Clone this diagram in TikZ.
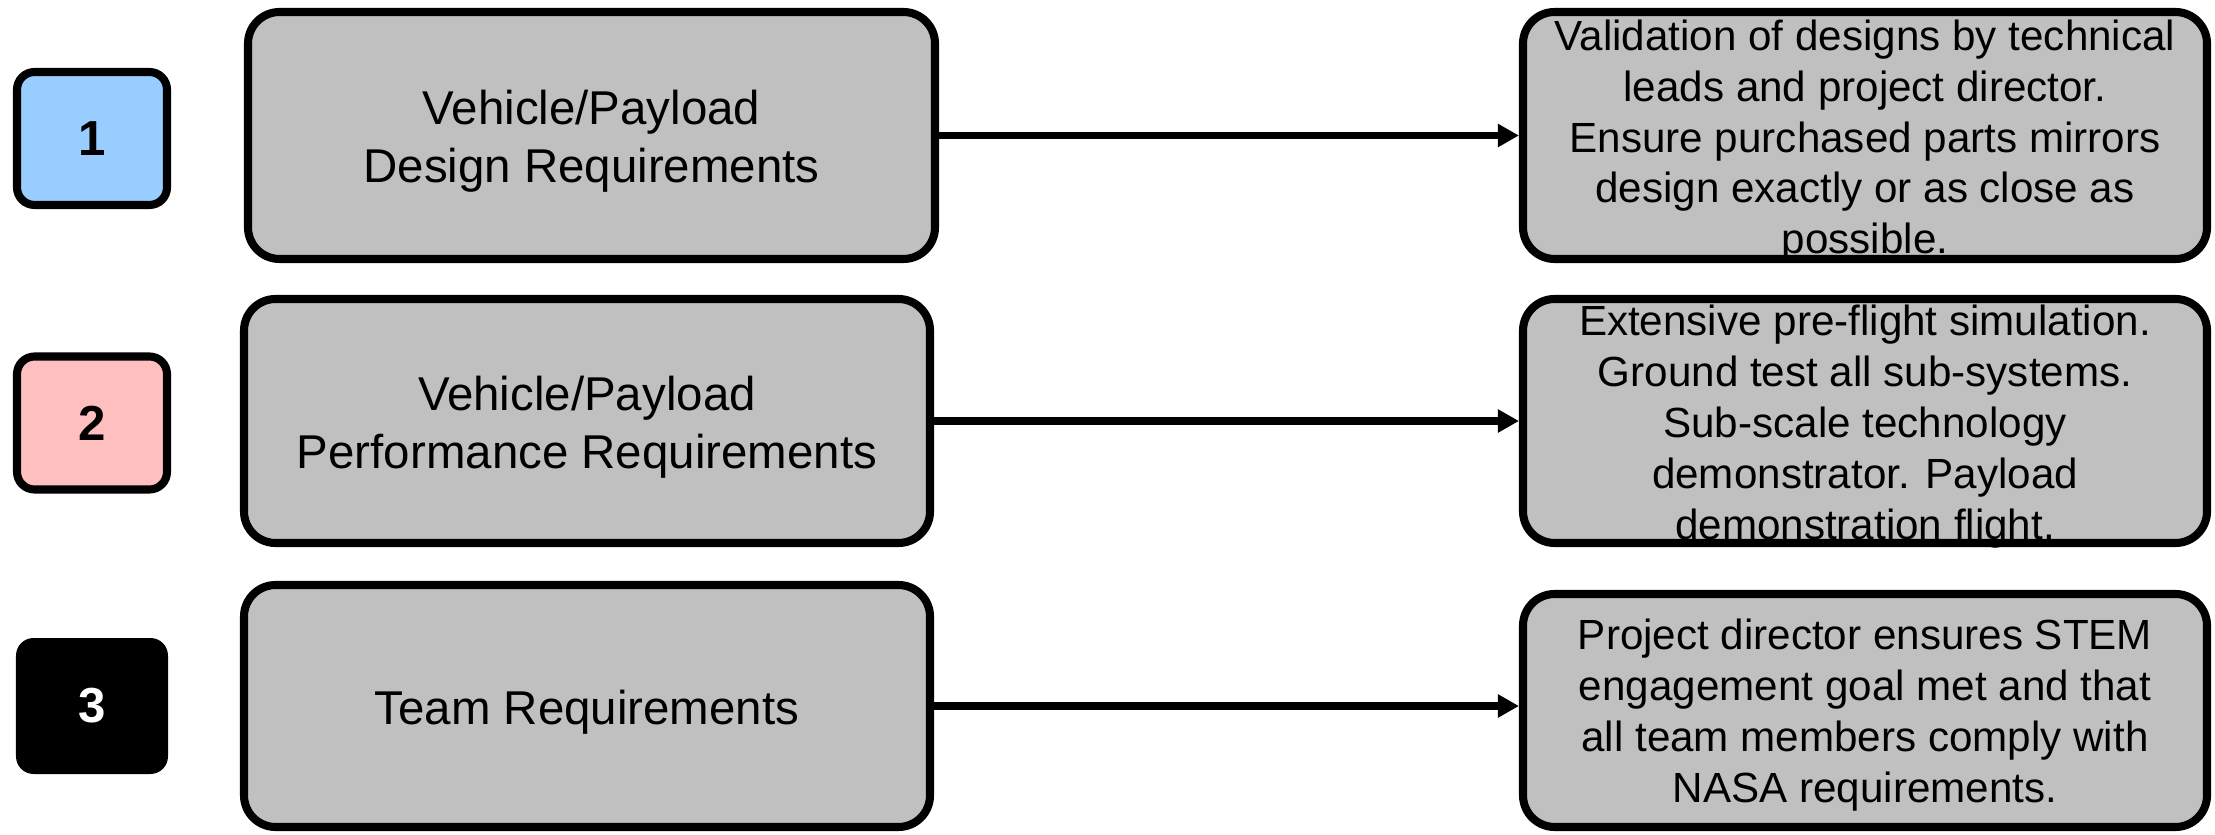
\documentclass[tikz,border=0pt]{standalone}
\usepackage{fontspec}
\setmainfont{Liberation Sans}
\usepackage{xcolor}
\usetikzlibrary{arrows.meta, positioning}

\definecolor{boxgray}{RGB}{192,192,192}
\definecolor{numblue}{RGB}{153,204,255}
\definecolor{numpink}{RGB}{255,191,191}

\begin{document}
\begin{tikzpicture}[
  num/.style={draw, line width=2.3pt, rounded corners=5pt,
              minimum width=1.5cm, minimum height=1.33cm,
              font=\fontsize{14}{16}\selectfont\bfseries},
  req/.style={draw, line width=2.3pt, rounded corners=9pt, fill=boxgray,
              minimum width=6.86cm, minimum height=2.44cm,
              font=\fontsize{13.5}{16.5}\selectfont, align=center},
  act/.style={draw, line width=2.3pt, rounded corners=9pt, fill=boxgray,
              minimum width=6.84cm, minimum height=2.44cm},
  acttxt/.style={inner sep=0pt, font=\fontsize{12}{14.5}\selectfont,
                 align=center},
  arr/.style={-{Triangle[length=0.21cm, width=0.22cm]}, line width=2pt},
]
\useasboundingbox (0,0) rectangle (22.15,-8.35);

% numbered tags
\node[num, fill=numblue] (n1) at (0.92,-1.385) {1};
\node[num, fill=numpink] (n2) at (0.92,-4.23) {2};
\node[num, fill=black, draw=none, text=white,
      minimum width=1.52cm, minimum height=1.36cm] (n3) at (0.92,-7.06) {3};

% requirements
\node[req, minimum height=2.47cm, minimum width=6.87cm]
  (l1) at (5.915,-1.355) {\rule{0pt}{0.98em}Vehicle/Payload\\Design Requirements};
\node[req] (l2) at (5.87,-4.21)
  {\rule{0pt}{0.98em}Vehicle/Payload\\Performance Requirements};
\node[req, minimum height=2.42cm] (l3) at (5.87,-7.06)
  {\rule{0pt}{0.98em}Team Requirements};

% verification
\node[act, minimum height=2.47cm] (r1) at (18.65,-1.355) {};
\node[act] (r2) at (18.65,-4.21) {};
\node[act, minimum height=2.33cm] (r3) at (18.65,-7.105) {};

\node[acttxt] (r1t) at ([yshift=-1.6pt]r1.center)
  {Validation of designs by technical\\leads and project director.\\
   Ensure purchased parts mirrors\\design exactly or as close as\\possible.};
\node[acttxt] (r2t) at ([yshift=-1.6pt]r2.center)
  {Extensive pre-flight simulation.\\Ground test all sub-systems.\\
   Sub-scale technology\\demonstrator. Payload\\demonstration flight.};
\node[acttxt] (r3t) at ([yshift=-1.2pt]r3.center)
  {Project director ensures STEM\\engagement goal met and that\\
   all team members comply with\\NASA requirements.};

\draw[arr] (l1.east) -- (l1.east -| r1.west);
\draw[arr] (l2.east) -- (l2.east -| r2.west);
\draw[arr] (l3.east) -- (l3.east -| r3.west);
\end{tikzpicture}
\end{document}
